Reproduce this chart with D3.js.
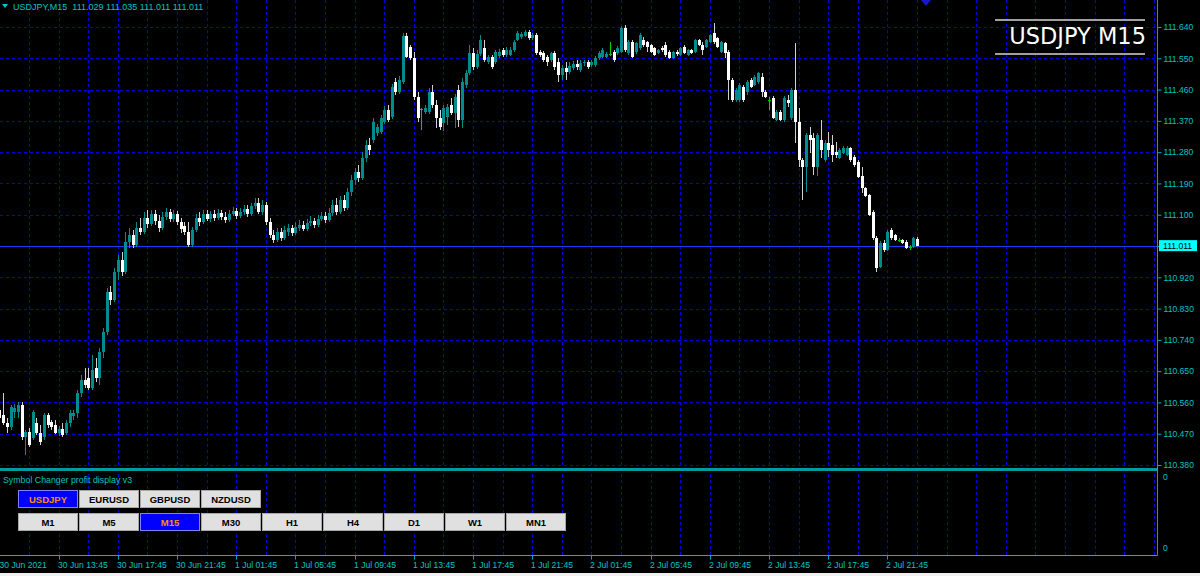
<!DOCTYPE html>
<html>
<head>
<meta charset="utf-8">
<script src="https://cdn.jsdelivr.net/npm/d3@7/dist/d3.min.js"></script>
<style>
  body { margin: 0; background: #000; }
  svg { display: block; font-family: "Liberation Sans", Arial, sans-serif; }
</style>
</head>
<body>
<script>
var opens = [110.538,110.524,110.501,110.490,110.533,110.533,110.553,110.461,110.475,110.458,
  110.501,110.472,110.461,110.524,110.504,110.495,110.472,110.484,110.472,110.501,
  110.521,110.530,110.587,110.625,110.630,110.602,110.659,110.630,110.705,110.763,
  110.878,110.855,110.935,110.970,110.935,111.022,111.042,111.013,111.062,111.051,
  111.091,111.074,111.102,111.082,111.062,111.094,111.108,111.088,111.102,111.079,
  111.068,111.051,111.013,111.056,111.091,111.079,111.102,111.088,111.102,111.091,
  111.105,111.094,111.085,111.102,111.111,111.097,111.108,111.117,111.102,111.125,
  111.134,111.108,111.128,111.079,111.042,111.028,111.051,111.033,111.051,111.062,
  111.048,111.062,111.071,111.059,111.076,111.082,111.071,111.088,111.097,111.085,
  111.105,111.128,111.108,111.143,111.120,111.166,111.200,111.223,111.206,111.263,
  111.301,111.315,111.335,111.338,111.367,111.402,111.381,111.482,111.453,111.482,
  111.614,111.583,111.551,111.439,111.404,111.396,111.396,111.453,111.416,111.379,
  111.364,111.381,111.416,111.393,111.459,111.373,111.473,111.508,111.566,111.525,
  111.563,111.580,111.540,111.554,111.540,111.557,111.574,111.560,111.560,111.574,
  111.603,111.612,111.614,111.626,111.609,111.617,111.568,111.566,111.554,111.545,
  111.566,111.540,111.502,111.522,111.511,111.522,111.534,111.517,111.537,111.540,
  111.531,111.531,111.551,111.554,111.554,111.563,111.568,111.566,111.568,111.637,
  111.566,111.597,111.568,111.580,111.603,111.597,111.589,111.580,111.566,111.580,
  111.589,111.568,111.551,111.568,111.560,111.583,111.560,111.574,111.568,111.603,
  111.589,111.583,111.597,111.623,111.609,111.568,111.594,111.568,111.488,111.430,
  111.430,111.468,111.453,111.488,111.473,111.482,111.497,111.453,111.430,111.436,
  111.373,111.396,111.373,111.430,111.379,111.459,111.367,111.258,111.238,111.330,
  111.321,111.238,111.315,111.258,111.307,111.301,111.281,111.263,111.278,111.272,
  111.292,111.266,111.252,111.212,111.177,111.157,111.108,111.033,110.950,111.019,
  110.999,111.056,111.042,111.028,111.028,111.022,111.007,111.007,111.029];

var highs = [110.567,110.587,110.516,110.553,110.556,110.561,110.561,110.481,110.487,110.538,
  110.516,110.495,110.530,110.530,110.510,110.510,110.492,110.501,110.510,110.538,
  110.538,110.596,110.639,110.659,110.659,110.697,110.688,110.717,110.774,110.889,
  110.895,110.947,110.984,110.993,111.051,111.062,111.056,111.079,111.091,111.108,
  111.114,111.114,111.114,111.099,111.108,111.120,111.117,111.114,111.111,111.091,
  111.079,111.079,111.065,111.102,111.108,111.114,111.114,111.111,111.114,111.117,
  111.114,111.108,111.114,111.122,111.120,111.120,111.128,111.128,111.134,111.148,
  111.148,111.143,111.137,111.091,111.056,111.062,111.062,111.068,111.074,111.071,
  111.079,111.085,111.082,111.088,111.097,111.091,111.099,111.108,111.108,111.120,
  111.143,111.148,111.154,111.157,111.177,111.215,111.235,111.243,111.281,111.315,
  111.321,111.379,111.361,111.387,111.413,111.416,111.476,111.494,111.499,111.623,
  111.623,111.589,111.568,111.453,111.407,111.416,111.465,111.473,111.430,111.402,
  111.416,111.419,111.436,111.448,111.473,111.494,111.517,111.589,111.580,111.574,
  111.617,111.603,111.560,111.560,111.574,111.577,111.580,111.583,111.583,111.603,
  111.629,111.626,111.632,111.632,111.623,111.623,111.574,111.571,111.560,111.568,
  111.571,111.551,111.531,111.540,111.540,111.543,111.545,111.545,111.545,111.545,
  111.545,111.557,111.571,111.580,111.568,111.597,111.574,111.586,111.643,111.646,
  111.603,111.603,111.597,111.623,111.612,111.600,111.591,111.583,111.577,111.586,
  111.597,111.574,111.571,111.574,111.583,111.589,111.577,111.577,111.606,111.606,
  111.597,111.606,111.620,111.652,111.612,111.600,111.597,111.574,111.494,111.465,
  111.479,111.473,111.488,111.494,111.502,111.511,111.508,111.459,111.439,111.442,
  111.402,111.402,111.442,111.445,111.465,111.594,111.407,111.263,111.335,111.353,
  111.335,111.335,111.373,111.315,111.338,111.330,111.310,111.292,111.298,111.298,
  111.295,111.272,111.258,111.238,111.180,111.160,111.114,111.039,111.025,111.028,
  111.056,111.062,111.045,111.033,111.030,111.028,111.013,111.036,111.035];

var lows = [110.504,110.495,110.472,110.481,110.516,110.516,110.452,110.409,110.432,110.452,
  110.467,110.438,110.452,110.487,110.481,110.469,110.464,110.461,110.467,110.490,
  110.510,110.516,110.576,110.602,110.596,110.596,110.619,110.610,110.688,110.754,
  110.841,110.849,110.912,110.924,110.930,111.005,111.005,111.007,111.042,111.045,
  111.062,111.068,111.071,111.051,111.056,111.085,111.079,111.079,111.071,111.048,
  111.042,111.007,111.007,111.051,111.068,111.074,111.082,111.079,111.082,111.085,
  111.085,111.076,111.079,111.097,111.088,111.091,111.099,111.094,111.097,111.117,
  111.102,111.099,111.071,111.033,111.019,111.022,111.025,111.028,111.039,111.039,
  111.042,111.053,111.053,111.053,111.068,111.062,111.065,111.082,111.076,111.079,
  111.097,111.099,111.102,111.111,111.114,111.154,111.186,111.194,111.200,111.252,
  111.272,111.307,111.327,111.333,111.361,111.367,111.376,111.445,111.448,111.476,
  111.551,111.545,111.430,111.367,111.344,111.390,111.390,111.407,111.350,111.344,
  111.341,111.358,111.387,111.350,111.353,111.350,111.465,111.502,111.517,111.519,
  111.557,111.540,111.534,111.519,111.534,111.551,111.554,111.554,111.557,111.568,
  111.600,111.606,111.612,111.603,111.603,111.560,111.554,111.540,111.528,111.540,
  111.517,111.482,111.488,111.488,111.505,111.517,111.517,111.511,111.528,111.519,
  111.525,111.525,111.545,111.551,111.551,111.557,111.540,111.560,111.566,111.568,
  111.560,111.551,111.563,111.574,111.583,111.568,111.566,111.557,111.563,111.568,
  111.554,111.548,111.548,111.557,111.557,111.563,111.557,111.563,111.566,111.586,
  111.560,111.580,111.594,111.591,111.580,111.566,111.551,111.430,111.425,111.425,
  111.425,111.425,111.445,111.465,111.471,111.476,111.439,111.436,111.402,111.376,
  111.370,111.370,111.367,111.410,111.373,111.307,111.238,111.143,111.166,111.278,
  111.215,111.212,111.263,111.252,111.266,111.252,111.263,111.261,111.275,111.269,
  111.252,111.238,111.206,111.163,111.151,111.097,111.028,110.935,110.947,110.993,
  110.996,111.028,111.025,111.022,111.016,111.002,110.999,111.005,111.011];

var closes = [110.516,110.501,110.490,110.547,110.544,110.553,110.461,110.475,110.438,110.533,
  110.472,110.446,110.524,110.495,110.490,110.472,110.484,110.467,110.501,110.530,
  110.530,110.587,110.625,110.610,110.602,110.654,110.630,110.705,110.763,110.878,
  110.855,110.935,110.970,110.935,111.022,111.042,111.013,111.062,111.051,111.091,
  111.074,111.102,111.082,111.062,111.094,111.108,111.088,111.102,111.079,111.059,
  111.051,111.013,111.056,111.091,111.079,111.102,111.088,111.102,111.091,111.105,
  111.094,111.085,111.102,111.111,111.097,111.108,111.117,111.102,111.125,111.134,
  111.108,111.128,111.079,111.042,111.028,111.051,111.033,111.056,111.062,111.048,
  111.065,111.071,111.059,111.076,111.082,111.071,111.088,111.097,111.085,111.105,
  111.128,111.108,111.143,111.120,111.166,111.200,111.223,111.206,111.263,111.301,
  111.287,111.367,111.353,111.379,111.402,111.373,111.468,111.453,111.488,111.614,
  111.554,111.551,111.439,111.379,111.404,111.407,111.453,111.416,111.379,111.353,
  111.407,111.410,111.393,111.439,111.373,111.482,111.508,111.566,111.525,111.563,
  111.603,111.545,111.554,111.525,111.568,111.568,111.560,111.574,111.574,111.597,
  111.623,111.620,111.626,111.609,111.617,111.566,111.560,111.545,111.540,111.566,
  111.525,111.502,111.522,111.511,111.528,111.534,111.525,111.537,111.540,111.525,
  111.540,111.551,111.566,111.574,111.563,111.563,111.545,111.580,111.637,111.574,
  111.597,111.554,111.594,111.617,111.589,111.583,111.568,111.560,111.574,111.574,
  111.560,111.551,111.568,111.563,111.580,111.566,111.574,111.566,111.603,111.589,
  111.574,111.603,111.617,111.597,111.583,111.597,111.566,111.488,111.430,111.459,
  111.473,111.430,111.482,111.468,111.497,111.508,111.453,111.439,111.430,111.379,
  111.396,111.373,111.436,111.422,111.459,111.367,111.258,111.238,111.330,111.315,
  111.238,111.330,111.287,111.307,111.287,111.272,111.272,111.287,111.292,111.292,
  111.258,111.243,111.209,111.177,111.154,111.099,111.033,110.947,111.019,110.999,
  111.051,111.033,111.028,111.028,111.019,111.005,111.007,111.033,111.011];

var priceTicks = [111.640, 111.550, 111.460, 111.370, 111.280, 111.190, 111.100, 111.010,
  110.920, 110.830, 110.740, 110.650, 110.560, 110.470, 110.380];

var timeLabels = ["30 Jun 2021", "30 Jun 13:45", "30 Jun 17:45", "30 Jun 21:45",
  "1 Jul 01:45", "1 Jul 05:45", "1 Jul 09:45", "1 Jul 13:45", "1 Jul 17:45", "1 Jul 21:45",
  "2 Jul 01:45", "2 Jul 05:45", "2 Jul 09:45", "2 Jul 13:45", "2 Jul 17:45", "2 Jul 21:45"];

var symbols = ["USDJPY", "EURUSD", "GBPUSD", "NZDUSD"];
var periods = ["M1", "M5", "M15", "M30", "H1", "H4", "D1", "W1", "MN1"];

var symbol = "USDJPY", period = "M15", bid = 111.011;

var W = 1200, H = 576,
  axisX = 1157.5,
  subBottom = 555.5;

var colGrid = "#0000d8",
  colAxis = "#00a8a8",
  colText = "#00c4c4",
  colBull = "#008c8c",
  colBear = "#ffffff",
  colBearWick = "#d0d0d0",
  colDoji = "#00d000";

var n = closes.length;

var x = d3.scaleLinear()
  .domain([0, n - 1])
  .range([-0.6, 917]);

var y = d3.scaleLinear()
  .domain([110.38, 111.64])
  .range([465, 27]);

var svg = d3.select("body").append("svg")
  .attr("width", W)
  .attr("height", H);

svg.append("rect")
  .attr("width", W)
  .attr("height", H)
  .attr("fill", "#000");

// grid
var gridBars = d3.range(8, 320, 8).filter(function (d) { return x(d) < axisX - 1; });

svg.append("g")
  .attr("class", "vgrid")
  .selectAll("line")
  .data(gridBars)
  .enter().append("line")
  .attr("x1", function (d) { return Math.round(x(d)) + 0.5; })
  .attr("x2", function (d) { return Math.round(x(d)) + 0.5; })
  .attr("y1", 0)
  .attr("y2", subBottom)
  .attr("stroke", colGrid)
  .attr("stroke-dasharray", "3,3");

svg.append("g")
  .attr("class", "hgrid")
  .selectAll("line")
  .data(priceTicks)
  .enter().append("line")
  .attr("x1", 0)
  .attr("x2", axisX - 1)
  .attr("y1", function (d) { return Math.round(y(d)) + 0.5; })
  .attr("y2", function (d) { return Math.round(y(d)) + 0.5; })
  .attr("stroke", colGrid)
  .attr("stroke-dasharray", "3,3");

// bid line
svg.append("line")
  .attr("x1", 0)
  .attr("x2", axisX)
  .attr("y1", Math.round(y(bid)) + 0.5)
  .attr("y2", Math.round(y(bid)) + 0.5)
  .attr("stroke", "#2038ff");

// candles
var candles = svg.append("g")
  .attr("class", "candles")
  .attr("shape-rendering", "crispEdges")
  .selectAll("g")
  .data(d3.range(n))
  .enter().append("g");

function kind(i) {
  if (closes[i] > opens[i]) return "bull";
  if (closes[i] < opens[i]) return "bear";
  return "doji";
}

candles.append("line")
  .attr("x1", function (i) { return Math.round(x(i)) + 0.5; })
  .attr("x2", function (i) { return Math.round(x(i)) + 0.5; })
  .attr("y1", function (i) { return y(highs[i]); })
  .attr("y2", function (i) { return y(lows[i]); })
  .attr("stroke", function (i) {
    var k = kind(i);
    return k === "bull" ? colBull : k === "bear" ? colBearWick : colDoji;
  });

candles.append("rect")
  .attr("x", function (i) { return Math.round(x(i)) - 1; })
  .attr("width", 3)
  .attr("y", function (i) { return y(Math.max(opens[i], closes[i])); })
  .attr("height", function (i) { return Math.max(1, Math.abs(y(opens[i]) - y(closes[i]))); })
  .attr("fill", function (i) {
    var k = kind(i);
    return k === "bull" ? colBull : k === "bear" ? colBear : colDoji;
  });

// window separator and frame
svg.append("rect")
  .attr("x", 0)
  .attr("y", 468)
  .attr("width", axisX + 0.5)
  .attr("height", 3)
  .attr("fill", "#009c9c");

svg.append("line")
  .attr("x1", axisX)
  .attr("x2", axisX)
  .attr("y1", 0)
  .attr("y2", subBottom)
  .attr("stroke", colAxis);

svg.append("line")
  .attr("x1", 0)
  .attr("x2", axisX)
  .attr("y1", subBottom)
  .attr("y2", subBottom)
  .attr("stroke", "#10b0d0");

// price axis
var yAxis = d3.axisRight(y)
  .tickValues(priceTicks)
  .tickFormat(d3.format(".3f"))
  .tickSize(4)
  .tickPadding(2);

var gy = svg.append("g")
  .attr("class", "y axis")
  .attr("transform", "translate(" + axisX + ",0)")
  .call(yAxis);

gy.select(".domain").remove();
gy.selectAll(".tick line").attr("stroke", colAxis);
gy.selectAll(".tick text")
  .attr("fill", colText)
  .attr("font-size", "8.6px")
  .attr("font-family", "Liberation Sans, Arial, sans-serif");

// bid label
svg.append("rect")
  .attr("x", axisX + 1.5)
  .attr("y", y(bid) - 5.5)
  .attr("width", 38)
  .attr("height", 11)
  .attr("fill", "#00ffff");

svg.append("text")
  .attr("x", axisX + 5.5)
  .attr("y", y(bid))
  .attr("dy", "0.35em")
  .attr("font-size", "8.6px")
  .attr("fill", "#000")
  .text(d3.format(".3f")(bid));

// sub window zero labels
svg.selectAll("text.zero")
  .data([477, 548])
  .enter().append("text")
  .attr("class", "zero")
  .attr("x", axisX + 5.5)
  .attr("y", function (d) { return d; })
  .attr("dy", "0.35em")
  .attr("font-size", "8.6px")
  .attr("fill", colText)
  .text("0");

// time axis
var labelBars = timeLabels.map(function (d, i) { return i * 16; });

var xAxis = d3.axisBottom(x)
  .tickValues(labelBars)
  .tickFormat(function (d, i) { return timeLabels[i]; })
  .tickSize(4)
  .tickPadding(2);

var gx = svg.append("g")
  .attr("class", "x axis")
  .attr("transform", "translate(0," + subBottom + ")")
  .call(xAxis);

gx.select(".domain").remove();
gx.selectAll(".tick").attr("transform", function (d) { return "translate(" + (Math.round(x(d)) + 0.5) + ",0)"; });
gx.selectAll(".tick line").attr("stroke", colAxis);
gx.selectAll(".tick text")
  .attr("fill", colText)
  .attr("font-size", "8.6px")
  .attr("font-family", "Liberation Sans, Arial, sans-serif")
  .attr("text-anchor", "start")
  .attr("x", function (d) { return d === 0 ? 0 : -1.5; });

// header
svg.append("path")
  .attr("d", "M2,4 L8,4 L5,8 Z")
  .attr("fill", colText);

svg.append("text")
  .attr("x", 13)
  .attr("y", 10)
  .attr("font-size", "9px")
  .attr("fill", colText)
  .attr("xml:space", "preserve")
  .text(symbol + "," + period + "  " + [opens[n - 1], highs[n - 1], lows[n - 1], closes[n - 1]].map(d3.format(".3f")).join(" "));

svg.append("path")
  .attr("d", "M921,0 L931,0 L926,6 Z")
  .attr("fill", "#1818c8");

// big label
svg.selectAll("line.frame")
  .data([20, 54])
  .enter().append("line")
  .attr("class", "frame")
  .attr("x1", 995)
  .attr("x2", 1145)
  .attr("y1", function (d) { return d; })
  .attr("y2", function (d) { return d; })
  .attr("stroke", "#a0a0a0")
  .attr("stroke-width", 2);

svg.append("text")
  .attr("x", 1146)
  .attr("y", 44)
  .attr("text-anchor", "end")
  .attr("font-family", "DejaVu Sans, sans-serif")
  .attr("font-size", "22.5px")
  .attr("fill", "#ffffff")
  .text(symbol + " " + period);

// indicator
svg.append("text")
  .attr("x", 3)
  .attr("y", 483)
  .attr("font-size", "8.8px")
  .attr("fill", colText)
  .text("Symbol Changer profit display v3");

function buttons(list, top, active) {
  var g = svg.append("g")
    .selectAll("g")
    .data(list)
    .enter().append("g")
    .attr("transform", function (d, i) { return "translate(" + (18 + i * 61) + "," + top + ")"; });

  g.append("rect")
    .attr("x", 0.5)
    .attr("y", 0.5)
    .attr("width", 59)
    .attr("height", 17)
    .attr("fill", function (d) { return d === active ? "#0000ff" : "#e0e0e0"; })
    .attr("stroke", function (d) { return d === active ? "#8080ff" : "#a8a8a8"; });

  g.append("text")
    .attr("x", 30)
    .attr("y", 9.5)
    .attr("dy", "0.35em")
    .attr("text-anchor", "middle")
    .attr("font-size", "9.5px")
    .attr("font-weight", "bold")
    .attr("fill", function (d) { return d === active ? "#ff8c00" : "#000"; })
    .text(function (d) { return d; });
}

buttons(symbols, 490, symbol);
buttons(periods, 513, period);

svg.append("rect")
  .attr("x", 0)
  .attr("y", 573)
  .attr("width", W)
  .attr("height", 3)
  .attr("fill", "#f0f0f0");
</script>
</body>
</html>
